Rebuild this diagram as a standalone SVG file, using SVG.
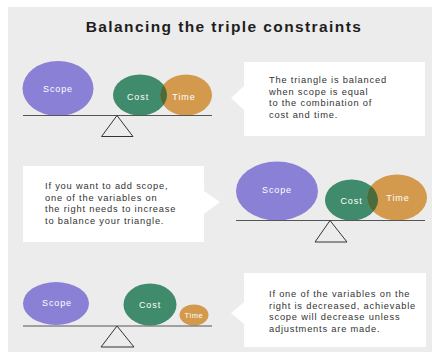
<svg xmlns="http://www.w3.org/2000/svg" width="432" height="352" viewBox="0 0 432 352">
<style>
.title{font-family:"Liberation Sans",Arial,sans-serif;font-weight:bold;font-size:15.5px;letter-spacing:1.4px;fill:#1e1e1e}
.lbl{font-family:"Liberation Sans",Arial,sans-serif;font-size:9px;letter-spacing:0.9px;fill:#ffffff;text-anchor:middle}
.body{font-family:"Liberation Sans",Arial,sans-serif;font-size:9.3px;letter-spacing:0.8px;fill:#333333}
.scope{fill:#8a80d6}
.cost{fill:#3f8b6c}
.time{fill:#d39a4e}
.ov{fill:#4a6b3c}
.beam{stroke:#555555;stroke-width:1.2;fill:none}
.fulcrum{stroke:#333333;stroke-width:1;fill:none}
.box{fill:#ffffff}
</style>
<defs>
  <clipPath id="clip1"><ellipse cx="140" cy="95" rx="27" ry="20.5"/></clipPath>
  <clipPath id="clip2"><ellipse cx="351.5" cy="200" rx="26.5" ry="20.5"/></clipPath>
</defs>
<rect x="0" y="0" width="432" height="352" fill="#ffffff"/>
<rect x="8" y="7" width="424" height="345" fill="#ececec"/>
<text class="title" x="224" y="32" text-anchor="middle">Balancing the triple constraints</text>

<g id="panel1">
  <g id="p1-scope"><ellipse class="scope" cx="58" cy="88.5" rx="35.5" ry="27.5"/><text class="lbl" x="58" y="92">Scope</text></g>
  <g id="p1-cost"><ellipse class="cost" cx="140" cy="95" rx="27" ry="20.5"/><text class="lbl" x="138" y="99.5">Cost</text></g>
  <g id="p1-time"><ellipse class="time" cx="186" cy="95" rx="26" ry="20.5"/><text class="lbl" x="184" y="99.5">Time</text></g>
  <ellipse class="ov" cx="186" cy="95" rx="26" ry="20.5" clip-path="url(#clip1)"/>
  <g id="p1-callout">
    <path class="box" d="M244,62 H425 V136 H244 V110 L231,98 L244,86 Z"/>
    <text class="body" x="269" y="83">The triangle is balanced</text>
    <text class="body" x="269" y="94.5">when scope is equal</text>
    <text class="body" x="269" y="106">to the combination of</text>
    <text class="body" x="269" y="117.5">cost and time.</text>
  </g>
</g>

<g id="panel2">
  <g id="p2-callout">
    <path class="box" d="M23,166 H204 V191 L220,202 L204,214 V242 H23 Z"/>
    <text class="body" x="45" y="189">If you want to add scope,</text>
    <text class="body" x="45" y="200.5">one of the variables on</text>
    <text class="body" x="45" y="212">the right needs to increase</text>
    <text class="body" x="45" y="223.5">to balance your triangle.</text>
  </g>
  <g id="p2-scope"><ellipse class="scope" cx="277" cy="191" rx="41" ry="29.5"/><text class="lbl" x="277" y="193">Scope</text></g>
  <g id="p2-cost"><ellipse class="cost" cx="351.5" cy="200" rx="26.5" ry="20.5"/><text class="lbl" x="351.5" y="203.5">Cost</text></g>
  <g id="p2-time"><ellipse class="time" cx="397" cy="197.5" rx="30" ry="23"/><text class="lbl" x="398" y="201">Time</text></g>
  <ellipse class="ov" cx="397" cy="197.5" rx="30" ry="23" clip-path="url(#clip2)"/>
</g>

<g id="panel3">
  <g id="p3-scope"><ellipse class="scope" cx="56" cy="303.5" rx="33" ry="21.5"/><text class="lbl" x="57" y="306">Scope</text></g>
  <g id="p3-cost"><ellipse class="cost" cx="150" cy="304.5" rx="26.5" ry="21"/><text class="lbl" x="150" y="308">Cost</text></g>
  <g id="p3-time"><ellipse class="time" cx="194" cy="315" rx="14.5" ry="10.5"/><text class="lbl" x="194" y="317.5" style="font-size:7.5px;letter-spacing:0.6px">Time</text></g>
  <g id="p3-callout">
    <path class="box" d="M244,273 H426 V347 H244 V324 L231,313 L244,302 Z"/>
    <text class="body" x="269" y="297">If one of the variables on the</text>
    <text class="body" x="269" y="308.5">right is decreased, achievable</text>
    <text class="body" x="269" y="320">scope will decrease unless</text>
    <text class="body" x="269" y="331.5">adjustments are made.</text>
  </g>
</g>

<g id="connectors">
  <line class="beam" x1="23" y1="115.5" x2="212" y2="115.5"/>
  <path class="fulcrum" d="M117,115.5 L101.5,136.5 L133,136.5 Z"/>
  <line class="beam" x1="236" y1="220.5" x2="425" y2="220.5"/>
  <path class="fulcrum" d="M330,220.5 L315,242 L347,242 Z"/>
  <line class="beam" x1="23" y1="326" x2="212" y2="326"/>
  <path class="fulcrum" d="M117,326 L101,347 L134,347 Z"/>
</g>
</svg>
